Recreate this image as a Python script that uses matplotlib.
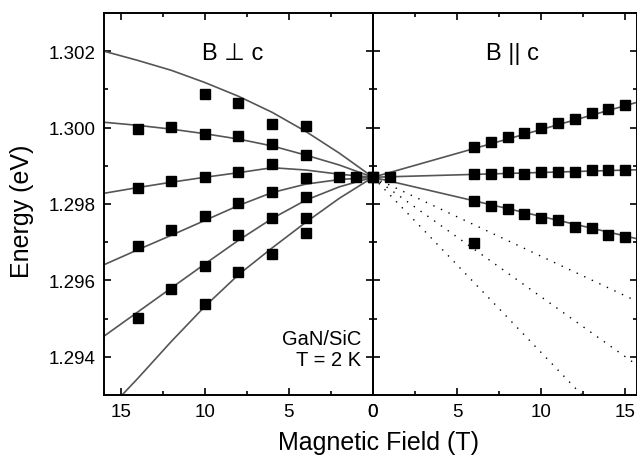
import numpy as np
import matplotlib
matplotlib.use("Agg")
import matplotlib.pyplot as plt
from matplotlib.ticker import MultipleLocator, FormatStrFormatter

plt.rcParams['font.family'] = ['Liberation Sans', 'DejaVu Sans']

# ── data ────────────────────────────────────────────────────────────────
# B perpendicular c (left panel, field axis reversed)
perp_fit_x = [16, 14, 12, 10, 8, 6, 4, 2, 0]
perp_fit_1 = [1.30200, 1.30176, 1.30150, 1.30118, 1.30082, 1.30040, 1.29990, 1.29933, 1.29870]
perp_fit_2 = [1.30014, 1.30006, 1.29996, 1.29984, 1.29970, 1.29952, 1.29928, 1.29902, 1.29870]
perp_fit_3 = [1.29828, 1.29843, 1.29857, 1.29870, 1.29882, 1.29895, 1.29889, 1.29878, 1.29870]
perp_fit_4 = [1.29641, 1.29680, 1.29718, 1.29757, 1.29796, 1.29830, 1.29852, 1.29864, 1.29870]
perp_fit_5 = [1.29454, 1.29517, 1.29580, 1.29643, 1.29705, 1.29762, 1.29810, 1.29845, 1.29870]
perp_fit_6 = [1.29250, 1.29343, 1.29440, 1.29532, 1.29615, 1.29685, 1.29752, 1.29815, 1.29870]

perp_x = [10, 8, 6, 4,
          14, 12, 10, 8, 6, 4,
          14, 12, 10, 8, 6, 4, 2, 1, 0,
          14, 12, 10, 8, 6, 4,
          14, 12, 10, 8, 6, 4,
          10, 8, 6, 4]
perp_e = [1.30088, 1.30064, 1.30010, 1.30005,
          1.29996, 1.30001, 1.29984, 1.29977, 1.29958, 1.29927,
          1.29842, 1.29859, 1.29871, 1.29885, 1.29906, 1.29869, 1.29871, 1.29871, 1.29871,
          1.29689, 1.29733, 1.29769, 1.29802, 1.29832, 1.29818,
          1.29502, 1.29578, 1.29639, 1.29720, 1.29763, 1.29763,
          1.29537, 1.29622, 1.29670, 1.29725]

# B parallel c (right panel)
par_x = [6, 7, 8, 9, 10, 11, 12, 13, 14, 15]
par_up = [1.29949, 1.29961, 1.29975, 1.29986, 1.29999, 1.30013, 1.30022, 1.30038, 1.30048, 1.30060]
par_mid = [1.29879, 1.29879, 1.29883, 1.29879, 1.29883, 1.29885, 1.29885, 1.29890, 1.29890, 1.29888]
par_low = [1.29808, 1.29796, 1.29787, 1.29775, 1.29763, 1.29759, 1.29740, 1.29736, 1.29720, 1.29714]
par_extra_x = [0, 1, 6]
par_extra_e = [1.29871, 1.29871, 1.29698]

par_fit_x = [0, 16]
par_fit_up = [1.29870, 1.30070]
par_fit_mid = [1.29870, 1.29890]
par_fit_low = [1.29870, 1.29706]
par_dot_1 = [1.29870, 1.29539]
par_dot_2 = [1.29870, 1.29369]
par_dot_3 = [1.29870, 1.29136]

# ── figure ──────────────────────────────────────────────────────────────
W, H = 637, 456
fig = plt.figure(figsize=(W / 100, H / 100), dpi=100)
ax1 = fig.add_axes([104 / W, 1 - 396 / H, 269 / W, 382 / H])
ax2 = fig.add_axes([373 / W, 1 - 396 / H, 264 / W, 382 / H])

line_kw = dict(color="#555555", lw=1.2, zorder=2)
mk_kw = dict(ls="none", marker="s", ms=6.8, color="black", zorder=3)

for yy in [perp_fit_1, perp_fit_2, perp_fit_3, perp_fit_4, perp_fit_5, perp_fit_6]:
    ax1.plot(perp_fit_x, yy, **line_kw)
ax1.plot(perp_x, perp_e, clip_on=False, **mk_kw)

for yy in [par_fit_up, par_fit_mid, par_fit_low]:
    ax2.plot(par_fit_x, yy, **line_kw)
for yy in [par_dot_1, par_dot_2, par_dot_3]:
    ax2.plot(par_fit_x, yy, color="black", lw=1.0, ls=(0, (1, 5)), zorder=2)
for yy in [par_up, par_mid, par_low]:
    ax2.plot(par_x, yy, **mk_kw)
ax2.plot(par_extra_x, par_extra_e, clip_on=False, **mk_kw)

ax1.set_xlim(16, 0)
ax2.set_xlim(0, 15.7)
for ax in (ax1, ax2):
    ax.set_ylim(1.293, 1.303)
    ax.xaxis.set_major_locator(MultipleLocator(5))
    ax.xaxis.set_minor_locator(MultipleLocator(2.5))
    ax.yaxis.set_major_locator(MultipleLocator(0.002))
    ax.yaxis.set_minor_locator(MultipleLocator(0.001))
    ax.tick_params(which="both", direction="in", top=True, right=True,
                   width=1.2, labelsize=13.5, colors="black")
    ax.tick_params(which="major", length=5, pad=6)
    ax.tick_params(which="minor", length=3)
    for s in ax.spines.values():
        s.set_linewidth(1.4)
    ax.set_facecolor("none")

ax1.yaxis.set_major_formatter(FormatStrFormatter("%.3f"))
ax1.xaxis.set_major_formatter(FormatStrFormatter("%d"))
ax2.xaxis.set_major_formatter(FormatStrFormatter("%d"))
ax2.tick_params(labelleft=False)

ax1.text(0.48, 0.895, "B \u22a5 c", transform=ax1.transAxes, ha="center",
         va="center", fontsize=17)
ax2.text(0.527, 0.895, "B || c", transform=ax2.transAxes, ha="center",
         va="center", fontsize=17)
ax1.text(0.955, 0.12, "GaN/SiC\nT = 2 K", transform=ax1.transAxes, ha="right",
         va="center", fontsize=14.5, linespacing=1.1)

fig.text(378 / W, 1 - 450 / H, "Magnetic Field (T)", ha="center",
         va="baseline", fontsize=18)
fig.text(22 / W, 1 - 211 / H, "Energy (eV)", ha="center", va="center",
         rotation=90, fontsize=18)

fig.savefig("out.png", dpi=100)
